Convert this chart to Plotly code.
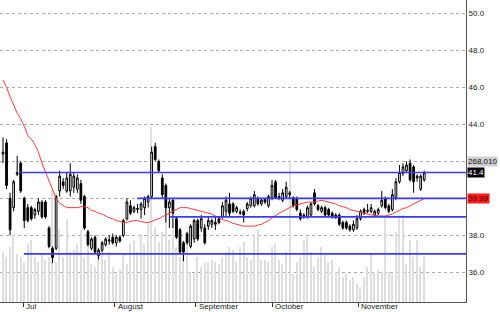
import plotly.graph_objects as go

# ---- data ----
opens = [42.4, 43.0, 40.0, 39.5, 41.3, 41.9, 40.0, 39.5, 39.5, 39.1,
         39.3, 39.8, 39.8, 38.4, 37.3, 37.3, 40.4, 40.9, 40.4, 40.4,
         40.6, 40.5, 40.8, 40.1, 38.2, 37.3, 37.9, 36.9, 37.2, 37.5,
         37.7, 37.9, 37.6, 37.9, 38.0, 38.9, 39.6, 39.3, 39.4, 39.4,
         39.5, 39.8, 40.1, 42.8, 42.0, 41.1, 40.7, 39.5, 39.9, 38.9,
         38.3, 37.6, 38.1, 37.4, 37.8, 38.8, 38.4, 38.4, 38.5, 38.6,
         38.6, 38.9, 39.0, 39.3, 39.7, 39.7, 39.3, 39.2, 39.3, 39.45,
         39.6, 39.6, 40.0, 39.7, 39.95, 39.6, 40.05, 40.9, 40.1, 39.9,
         40.1, 40.2, 40.05, 40.0, 39.2, 39.1, 39.0, 39.1, 40.3, 39.6,
         39.3, 39.5, 39.4, 39.2, 39.1, 39.1, 38.7, 38.7, 38.5, 38.3,
         38.4, 38.9, 39.4, 39.3, 39.3, 39.1, 39.2, 39.6, 40.0, 39.6,
         39.4, 40.05, 40.9, 41.35, 41.5, 41.9, 41.7, 41.1, 40.5, 41.0]
highs = [43.3, 43.2, 40.3, 41.0, 42.3, 42.0, 40.1, 39.7, 39.6, 39.5,
         40.0, 39.9, 39.9, 38.5, 37.4, 40.2, 41.5, 41.1, 41.4, 41.9,
         41.4, 41.3, 41.0, 40.2, 38.3, 37.9, 38.0, 37.3, 37.7, 37.9,
         38.0, 38.1, 38.0, 38.0, 38.9, 40.0, 39.9, 39.6, 39.7, 39.8,
         40.1, 40.2, 42.8, 43.0, 42.1, 41.3, 40.8, 40.0, 40.0, 39.0,
         38.4, 37.7, 38.2, 38.6, 38.9, 38.9, 39.1, 38.6, 39.0, 38.9,
         39.0, 39.0, 39.8, 40.1, 40.3, 39.8, 39.6, 39.4, 39.4, 39.8,
         40.1, 40.4, 40.1, 40.0, 40.0, 40.2, 41.0, 41.0, 40.3, 40.5,
         40.9, 40.4, 40.1, 40.1, 39.4, 39.2, 39.6, 39.8, 40.5, 39.7,
         39.6, 39.6, 39.5, 39.3, 39.2, 39.2, 38.8, 38.8, 38.6, 38.8,
         39.1, 39.4, 39.5, 39.7, 39.7, 39.4, 39.5, 40.4, 40.1, 39.7,
         40.5, 41.1, 41.8, 41.9, 42.0, 42.1, 41.8, 41.3, 41.3, 41.5]
lows = [41.9, 40.5, 38.0, 39.3, 41.2, 40.3, 38.4, 38.7, 38.8, 38.9,
        39.1, 38.9, 38.9, 37.3, 36.5, 37.2, 40.1, 40.5, 40.3, 40.1,
        40.3, 40.3, 39.7, 38.3, 37.4, 37.2, 37.0, 36.7, 37.1, 37.4,
        37.5, 37.5, 37.4, 37.6, 37.9, 38.8, 39.1, 39.2, 39.2, 38.9,
        39.1, 39.5, 40.0, 42.0, 41.4, 40.0, 38.7, 38.4, 38.4, 37.8,
        37.0, 36.6, 37.5, 37.3, 37.6, 37.7, 38.2, 37.5, 38.3, 38.4,
        38.3, 38.6, 38.9, 39.0, 39.0, 39.2, 39.2, 39.1, 38.7, 39.3,
        39.5, 39.5, 39.6, 39.6, 39.7, 39.5, 39.9, 40.0, 39.9, 39.8,
        40.0, 40.0, 39.5, 39.3, 38.8, 38.9, 38.9, 39.0, 39.6, 39.3,
        39.2, 39.0, 39.0, 38.9, 38.9, 38.5, 38.3, 38.3, 38.2, 38.2,
        38.3, 38.8, 39.1, 39.2, 39.2, 39.0, 39.1, 39.5, 39.4, 39.2,
        39.3, 39.9, 40.8, 41.2, 41.4, 40.9, 40.3, 40.9, 40.4, 40.9]
closes = [42.5, 40.7, 38.3, 40.9, 41.4, 40.4, 38.8, 38.8, 38.9, 39.4,
          39.8, 39.0, 39.0, 37.4, 36.8, 40.1, 41.2, 40.7, 41.1, 41.3,
          41.2, 41.1, 39.9, 38.4, 37.5, 37.8, 37.1, 37.2, 37.6, 37.8,
          37.75, 37.6, 37.9, 37.7, 38.8, 39.8, 39.2, 39.5, 39.45, 39.7,
          40.0, 40.1, 42.5, 42.1, 41.5, 40.2, 39.5, 39.8, 39.2, 37.9,
          37.1, 37.1, 37.6, 38.5, 38.8, 37.8, 38.9, 37.6, 38.8, 38.8,
          38.7, 38.7, 39.6, 39.9, 39.2, 39.3, 39.5, 39.25, 39.1, 39.7,
          40.0, 40.2, 39.7, 39.9, 39.8, 40.1, 40.7, 40.05, 40.0, 40.3,
          40.6, 40.3, 39.6, 39.4, 38.9, 39.0, 39.5, 39.7, 39.7, 39.4,
          39.5, 39.1, 39.1, 39.0, 38.95, 38.6, 38.4, 38.4, 38.3, 38.6,
          38.9, 39.3, 39.2, 39.35, 39.5, 39.3, 39.4, 39.9, 39.5, 39.3,
          40.2, 40.9, 41.4, 41.7, 41.8, 41.0, 40.9, 41.2, 41.2, 41.4]
ma = [46.4, 46.0, 45.5, 45.0, 44.6, 44.3, 43.9, 43.4, 43.2, 42.9,
      42.5, 41.9, 41.4, 40.9, 40.5, 40.0, 39.75, 39.6, 39.5, 39.5,
      39.5, 39.5, 39.55, 39.55, 39.5, 39.35, 39.3, 39.2, 39.15, 39.05,
      38.95, 38.9, 38.8, 38.75, 38.7, 38.7, 38.75, 38.8, 38.8, 38.75,
      38.7, 38.7, 38.75, 38.85, 38.9, 39.0, 39.1, 39.2, 39.3, 39.4,
      39.5, 39.5, 39.5, 39.45, 39.4, 39.35, 39.3, 39.25, 39.2, 39.15,
      39.05, 38.95, 38.85, 38.8, 38.75, 38.65, 38.6, 38.55, 38.5, 38.5,
      38.5, 38.5, 38.55, 38.6, 38.7, 38.8, 38.95, 39.1, 39.2, 39.3,
      39.4, 39.5, 39.6, 39.65, 39.7, 39.75, 39.8, 39.8, 39.8, 39.85,
      39.9, 39.85, 39.8, 39.75, 39.7, 39.6, 39.55, 39.5, 39.4, 39.35,
      39.3, 39.25, 39.2, 39.15, 39.1, 39.1, 39.05, 39.05, 39.05, 39.1,
      39.15, 39.25, 39.35, 39.45, 39.5, 39.6, 39.7, 39.8, 39.9, 39.99]
volume_k = [300, 270, 330, 400, 290, 270, 240, 350, 370, 270,
            240, 290, 250, 270, 670, 240, 440, 270, 500, 300,
            310, 350, 430, 270, 330, 230, 210, 330, 340, 250,
            300, 210, 170, 200, 280, 230, 350, 370, 300, 410,
            350, 480, 1050, 450, 360, 420, 570, 370, 480, 330,
            270, 310, 350, 180, 170, 270, 210, 240, 240, 250,
            240, 230, 270, 300, 330, 310, 240, 330, 360, 270,
            250, 400, 430, 250, 250, 240, 330, 350, 250, 230,
            300, 850, 170, 240, 270, 370, 390, 300, 210, 270,
            330, 280, 240, 250, 180, 210, 150, 170, 130, 150,
            110, 90, 150, 210, 290, 180, 190, 180, 510, 180,
            170, 420, 520, 520, 230, 370, 270, 370, 210, 268.01]
levels = [41.4, 37.0, 40.0, 39.0]
level_start = [4.8, 5.9, 37.9, 47.2]
month_labels = ["Jul", "August", "September", "October", "November"]
month_pos = [5.65, 31.6, 54.5, 76.0, 100.3]
price_ticks = [36, 38, 40, 42, 44, 46, 48, 50]
last_volume_label = "268,010"
last_close_label = "41.4"
last_ma_label = "39.99"

X_RANGE = [-0.85, 130.8]
Y_RANGE = [34.40, 50.72]
FONT = "Liberation Sans, Arial, sans-serif"

idx = list(range(len(closes)))

fig = go.Figure()
fig.add_trace(go.Bar(x=idx, y=volume_k, yaxis="y", width=0.4,
                     marker=dict(color="#dedede", line=dict(width=0)),
                     hoverinfo="skip", showlegend=False))
fig.add_trace(go.Candlestick(x=idx, open=opens, high=highs, low=lows, close=closes,
                             yaxis="y2", whiskerwidth=0,
                             increasing=dict(fillcolor="white", line=dict(color="black", width=1)),
                             decreasing=dict(fillcolor="black", line=dict(color="black", width=1)),
                             showlegend=False))
fig.add_trace(go.Scatter(x=idx, y=ma, yaxis="y2", mode="lines",
                         line=dict(color="#ff3b3b", width=1), showlegend=False))
for lvl, st in zip(levels, level_start):
    fig.add_trace(go.Scatter(x=[st, X_RANGE[1]], y=[lvl, lvl], yaxis="y2", mode="lines",
                             line=dict(color="#3a3aff", width=1.6), showlegend=False))

annotations = []
for lab, pos in zip(month_labels, month_pos):
    annotations.append(dict(x=pos, xref="x", y=0, yref="paper", yanchor="top",
                            xanchor="left", xshift=1, yshift=2, text=lab, showarrow=False,
                            font=dict(size=8, color="#222", family=FONT)))
right_labels = [(last_volume_label, 42.0, "#cfcfcf", "#111"),
                (last_close_label, 41.4, "#000000", "#ffffff"),
                (last_ma_label, 39.99, "#ff1a1a", "#300000")]
for txt, yv, bg, fc in right_labels:
    annotations.append(dict(x=1, xref="paper", y=yv, yref="y2", xanchor="left",
                            yanchor="middle", xshift=1, text=txt, showarrow=False,
                            bgcolor=bg, borderpad=0,
                            font=dict(size=8, color=fc, family=FONT)))

fig.update_layout(
    width=500, height=312,
    margin=dict(l=0, r=34, t=0, b=10),
    paper_bgcolor="white", plot_bgcolor="white",
    font=dict(family=FONT, size=8, color="#222"),
    showlegend=False,
    bargap=0,
    xaxis=dict(range=X_RANGE, showgrid=False, zeroline=False,
               tickvals=month_pos, ticks="outside", ticklen=4, tickcolor="#333",
               showticklabels=False, showline=True, linecolor="#555", linewidth=1,
               rangeslider=dict(visible=False), fixedrange=True),
    yaxis=dict(range=[0, 1812], visible=False, showgrid=False, zeroline=False),
    yaxis2=dict(range=Y_RANGE, overlaying="y", side="right", anchor="x",
                tickvals=price_ticks,
                ticktext=["" if v in (40, 42) else f"{v:.1f}" for v in price_ticks],
                showgrid=True, gridcolor="#aaaaaa", griddash="dot", gridwidth=1,
                zeroline=False, showline=True, linecolor="#555", linewidth=1,
                ticks="", tickfont=dict(size=8, color="#222", family=FONT)),
    annotations=annotations,
)

fig.write_html("out.html")
